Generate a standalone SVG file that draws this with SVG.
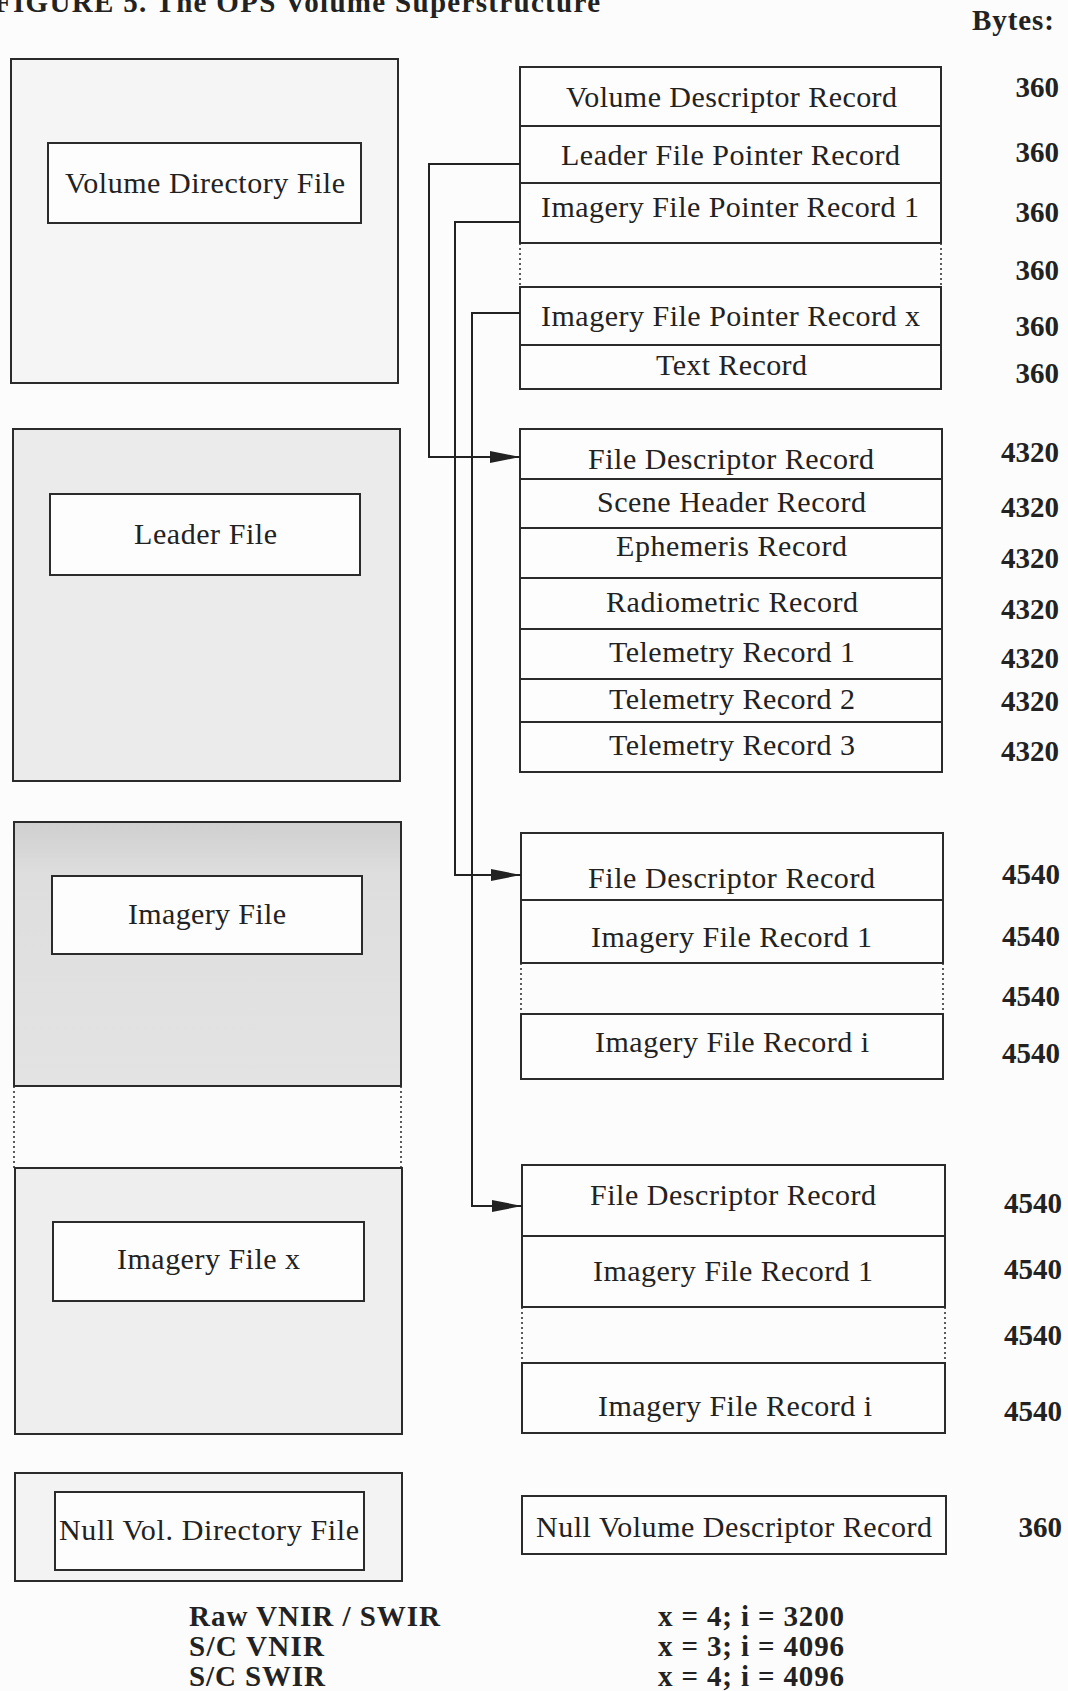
<svg xmlns="http://www.w3.org/2000/svg" width="1068" height="1691" viewBox="0 0 1068 1691">
<defs>
<style>
.outer{stroke:#2b2b2b;stroke-width:2}
.inner{fill:#fdfdfd;stroke:#2b2b2b;stroke-width:2}
.rec{fill:#fdfdfd;stroke:#2b2b2b;stroke-width:2}
.dot{stroke:#333;stroke-width:1.6;stroke-dasharray:2 3;fill:none}
.lt{font-family:"Liberation Serif",serif;font-size:30px;fill:#222}
.rt{font-family:"Liberation Serif",serif;font-size:30px;fill:#222}
.num{font-family:"Liberation Serif",serif;font-weight:bold;font-size:29px;fill:#222;text-anchor:end}
.bold{font-family:"Liberation Serif",serif;font-weight:bold;font-size:29px;fill:#222}
.conn{stroke:#222;stroke-width:2;fill:none}
</style>
<linearGradient id="imgGrad" x1="0" y1="0" x2="0" y2="1">
<stop offset="0" stop-color="#cfcfcf"/>
<stop offset="0.2" stop-color="#dedede"/>
<stop offset="1" stop-color="#e3e3e3"/>
</linearGradient>
<marker id="arr" viewBox="0 0 30 12" refX="30" refY="6" markerWidth="30" markerHeight="12" markerUnits="userSpaceOnUse" orient="auto">
<path d="M0,0 L30,6 L0,12 Z" fill="#222"/>
</marker>
</defs>
<rect x="0" y="0" width="1068" height="1691" fill="#fcfcfc"/>

<text class="bold" x="-6" y="12" font-size="30" textLength="606">FIGURE 5. The OPS Volume Superstructure</text>
<text class="bold" x="972" y="30" textLength="82">Bytes:</text>

<g id="volume-directory-file">
<rect class="outer" x="11" y="59" width="387" height="324" fill="#f5f5f5"/>
<rect class="inner" x="48" y="143" width="313" height="80"/>
<text class="lt" x="65" y="193" textLength="280">Volume Directory File</text>
</g>
<g id="leader-file">
<rect class="outer" x="13" y="429" width="387" height="352" fill="#ebebeb"/>
<rect class="inner" x="50" y="494" width="310" height="81"/>
<text class="lt" x="134" y="544" textLength="143">Leader File</text>
</g>
<g id="imagery-file">
<rect class="outer" x="14" y="822" width="387" height="264" fill="url(#imgGrad)"/>
<rect class="inner" x="52" y="876" width="310" height="78"/>
<text class="lt" x="128" y="924" textLength="158">Imagery File</text>
<line class="dot" x1="14" y1="1086" x2="14" y2="1168"/>
<line class="dot" x1="401" y1="1086" x2="401" y2="1168"/>
</g>
<g id="imagery-file-x">
<rect class="outer" x="15" y="1168" width="387" height="266" fill="#eeeeee"/>
<rect class="inner" x="53" y="1222" width="311" height="79"/>
<text class="lt" x="117" y="1269" textLength="183">Imagery File x</text>
</g>
<g id="null-vol-directory-file">
<rect class="outer" x="15" y="1473" width="387" height="108" fill="#f3f3f3"/>
<rect class="inner" x="55" y="1492" width="309" height="78"/>
<text class="lt" x="59" y="1540" textLength="300">Null Vol. Directory File</text>
</g>

<g id="volume-directory-records">
<rect class="rec" x="520" y="67" width="421" height="59"/>
<rect class="rec" x="520" y="126" width="421" height="57"/>
<rect class="rec" x="520" y="183" width="421" height="60"/>
<line class="dot" x1="520" y1="243" x2="520" y2="287"/>
<line class="dot" x1="941" y1="243" x2="941" y2="287"/>
<rect class="rec" x="520" y="287" width="421" height="58"/>
<rect class="rec" x="520" y="345" width="421" height="44"/>
<text class="rt" x="566" y="107" textLength="331">Volume Descriptor Record</text>
<text class="rt" x="561" y="165" textLength="339">Leader File Pointer Record</text>
<text class="rt" x="541" y="217" textLength="378">Imagery File Pointer Record 1</text>
<text class="rt" x="541" y="326" textLength="379">Imagery File Pointer Record x</text>
<text class="rt" x="656" y="375" textLength="151">Text Record</text>
<text class="num" x="1059" y="97">360</text>
<text class="num" x="1059" y="162">360</text>
<text class="num" x="1059" y="222">360</text>
<text class="num" x="1059" y="280">360</text>
<text class="num" x="1059" y="336">360</text>
<text class="num" x="1059" y="383">360</text>
</g>

<g id="leader-records">
<rect class="rec" x="520" y="429" width="422" height="50"/>
<rect class="rec" x="520" y="479" width="422" height="49"/>
<rect class="rec" x="520" y="528" width="422" height="50"/>
<rect class="rec" x="520" y="578" width="422" height="51"/>
<rect class="rec" x="520" y="629" width="422" height="50"/>
<rect class="rec" x="520" y="679" width="422" height="43"/>
<rect class="rec" x="520" y="722" width="422" height="50"/>
<text class="rt" x="588" y="469" textLength="286">File Descriptor Record</text>
<text class="rt" x="597" y="512" textLength="269">Scene Header Record</text>
<text class="rt" x="616" y="556" textLength="231">Ephemeris Record</text>
<text class="rt" x="606" y="612" textLength="252">Radiometric Record</text>
<text class="rt" x="609" y="662" textLength="246">Telemetry Record 1</text>
<text class="rt" x="609" y="709" textLength="246">Telemetry Record 2</text>
<text class="rt" x="609" y="755" textLength="246">Telemetry Record 3</text>
<text class="num" x="1059" y="462">4320</text>
<text class="num" x="1059" y="517">4320</text>
<text class="num" x="1059" y="568">4320</text>
<text class="num" x="1059" y="619">4320</text>
<text class="num" x="1059" y="668">4320</text>
<text class="num" x="1059" y="711">4320</text>
<text class="num" x="1059" y="761">4320</text>
</g>

<g id="imagery-records-1">
<rect class="rec" x="521" y="833" width="422" height="67"/>
<rect class="rec" x="521" y="900" width="422" height="63"/>
<line class="dot" x1="521" y1="963" x2="521" y2="1014"/>
<line class="dot" x1="943" y1="963" x2="943" y2="1014"/>
<rect class="rec" x="521" y="1014" width="422" height="65"/>
<text class="rt" x="588" y="888" textLength="287">File Descriptor Record</text>
<text class="rt" x="591" y="947" textLength="281">Imagery File Record 1</text>
<text class="rt" x="595" y="1052" textLength="274">Imagery File Record i</text>
<text class="num" x="1060" y="884">4540</text>
<text class="num" x="1060" y="946">4540</text>
<text class="num" x="1060" y="1006">4540</text>
<text class="num" x="1060" y="1063">4540</text>
</g>

<g id="imagery-records-x">
<rect class="rec" x="522" y="1165" width="423" height="71"/>
<rect class="rec" x="522" y="1236" width="423" height="71"/>
<line class="dot" x1="522" y1="1307" x2="522" y2="1363"/>
<line class="dot" x1="945" y1="1307" x2="945" y2="1363"/>
<rect class="rec" x="522" y="1363" width="423" height="70"/>
<text class="rt" x="590" y="1205" textLength="286">File Descriptor Record</text>
<text class="rt" x="593" y="1281" textLength="280">Imagery File Record 1</text>
<text class="rt" x="598" y="1416" textLength="274">Imagery File Record i</text>
<text class="num" x="1062" y="1213">4540</text>
<text class="num" x="1062" y="1279">4540</text>
<text class="num" x="1062" y="1345">4540</text>
<text class="num" x="1062" y="1421">4540</text>
</g>

<g id="null-volume-descriptor-record">
<rect class="rec" x="522" y="1496" width="424" height="58"/>
<text class="rt" x="536" y="1537" textLength="396">Null Volume Descriptor Record</text>
<text class="num" x="1062" y="1537">360</text>
</g>

<g id="connectors">
<path class="conn" d="M520,164 H429 V457 H520" marker-end="url(#arr)"/>
<path class="conn" d="M520,222 H455 V875 H521" marker-end="url(#arr)"/>
<path class="conn" d="M520,313 H472 V1206 H522" marker-end="url(#arr)"/>
</g>

<g id="legend">
<text class="bold" x="189" y="1626" textLength="251">Raw VNIR / SWIR</text>
<text class="bold" x="189" y="1656" textLength="135">S/C VNIR</text>
<text class="bold" x="189" y="1686" textLength="136">S/C SWIR</text>
<text class="bold" x="658" y="1626" textLength="186">x = 4; i = 3200</text>
<text class="bold" x="658" y="1656" textLength="186">x = 3; i = 4096</text>
<text class="bold" x="658" y="1686" textLength="186">x = 4; i = 4096</text>
</g>
</svg>
